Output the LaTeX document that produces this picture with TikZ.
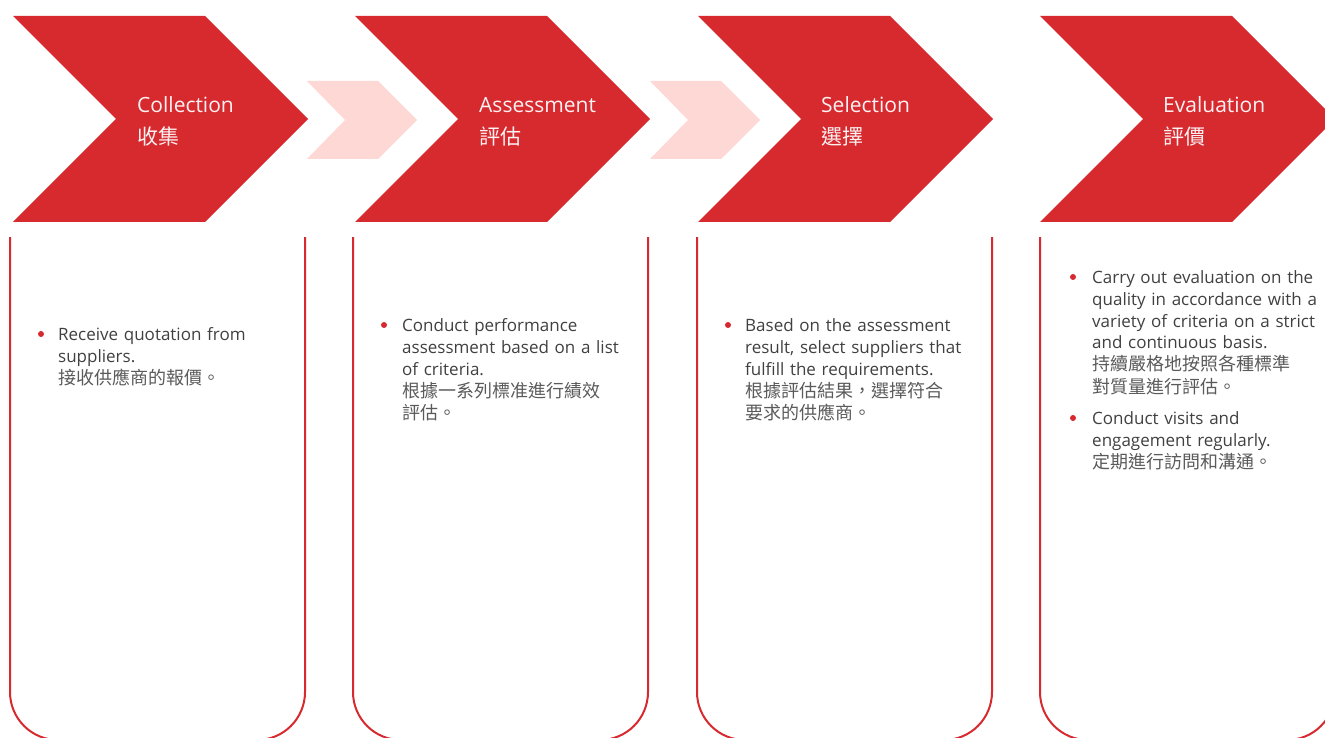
\documentclass[tikz,border=0pt]{standalone}
\usepackage{fontspec}
\setmainfont{Open Sans}
\newfontfamily\cjk{Noto Sans CJK TC}

\definecolor{stepred}{HTML}{D62A2F}
\definecolor{steppink}{HTML}{FDD8D5}
\definecolor{bodygray}{HTML}{404040}
\definecolor{cjkgray}{HTML}{5A5A5A}

\newcommand\zhline[1]{{\color{cjkgray}\cjk\fontsize{18}{22}\selectfont #1}}

\tikzset{
  stepchev/.style={fill=stepred},
  linkchev/.style={fill=steppink},
  panel/.style={draw=stepred,line width=2pt,rounded corners=48pt},
  steptitle/.style={anchor=base west,inner sep=0pt,text=white!94!stepred,
    text width=150pt,align=left,font=\fontsize{21}{32}\selectfont},
  bodytext/.style={anchor=base west,inner sep=0pt,text=bodygray,
    text width=240pt,align=left,font=\fontsize{17}{22}\selectfont},
  bulletdot/.style={circle,fill=stepred,inner sep=0pt,minimum size=6pt}
}

\begin{document}
\begin{tikzpicture}[x=1pt,y=-1pt]

        \useasboundingbox (0,0) rectangle (1325,738);
        \clip (0,0) rectangle (1325,738);

        % step chevrons
        \fill[stepchev] (13,16) -- (205,16) -- (308,119) -- (205,222) -- (13,222) -- (116,119) -- cycle;
        \fill[stepchev] (355,16) -- (547,16) -- (650,119) -- (547,222) -- (355,222) -- (458,119) -- cycle;
        \fill[stepchev] (698,16) -- (890,16) -- (993,119) -- (890,222) -- (698,222) -- (801,119) -- cycle;
        \fill[stepchev] (1040,16) -- (1232,16) -- (1335,119) -- (1232,222) -- (1040,222) -- (1143,119) -- cycle;

        % small chevrons between steps
        \fill[linkchev] (307,81) -- (378,81) -- (417,120) -- (378,159) -- (307,159) -- (345,120) -- cycle;
        \fill[linkchev] (650,81) -- (721,81) -- (760,120) -- (721,159) -- (650,159) -- (688,120) -- cycle;

        % panels
        \draw[panel] (10,237) -- (10,740) -- (305,740) -- (305,237);
        \draw[panel] (353,237) -- (353,740) -- (648,740) -- (648,237);
        \draw[panel] (697,237) -- (697,740) -- (992,740) -- (992,237);
        \draw[panel] (1040,237) -- (1040,740) -- (1335,740) -- (1335,237);

        \begin{scope}[every node/.style={steptitle}]
          \node (collect) at (137,113) {Collection\\{\cjk 收集}};
          \node (assess)  at (479,113) {Assessment\\{\cjk 評估}};
          \node (select)  at (821,113) {Selection\\{\cjk 選擇}};
          \node (eval)    at (1163,113) {Evaluation\\{\cjk 評價}};
        \end{scope}

        \begin{scope}[every node/.style={bulletdot}]
          \node (dot1)  at (41,334)   {};
          \node (dot2)  at (384,325)  {};
          \node (dot3)  at (728,325)  {};
          \node (dot4a) at (1073,277) {};
          \node (dot4b) at (1073,418) {};
        \end{scope}

        \begin{scope}[every node/.style={bodytext}]
          \node (txt1) at (58,340) {Receive quotation from\\suppliers.\\
            \zhline{接收供應商的報價。}};
          \node (txt2) at (402,331) {Conduct performance\\assessment based on a list\\of criteria.\\
            \zhline{根據一系列標准進行績效}\\\zhline{評估。}};
          \node (txt3) at (745,331) {Based on the assessment\\result, select suppliers that\\fulfill the requirements.\\
            \zhline{根據評估結果，選擇符合}\\\zhline{要求的供應商。}};
          \node (txt4a) at (1092,283) {Carry out evaluation on the\\quality in accordance with a\\variety of criteria on a strict\\and continuous basis.\\
            \zhline{持續嚴格地按照各種標準}\\\zhline{對質量進行評估。}};
          \node (txt4b) at (1092,424) {Conduct visits and\\engagement regularly.\\
            \zhline{定期進行訪問和溝通。}};
        \end{scope}

      \end{tikzpicture}
\end{document}
